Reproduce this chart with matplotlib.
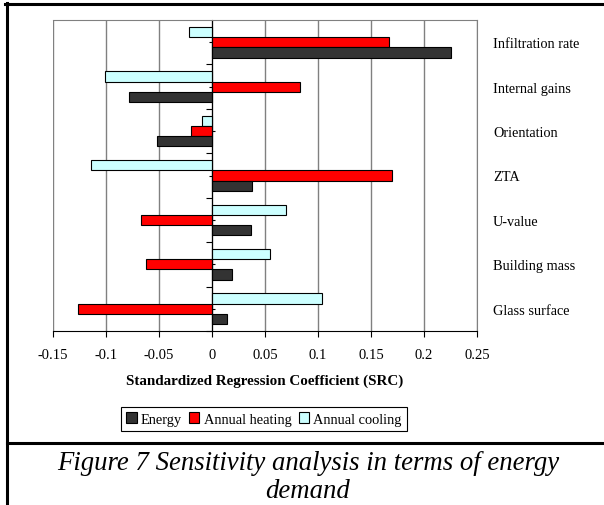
import matplotlib
matplotlib.use('Agg')
from matplotlib import pyplot as plt
from matplotlib.lines import Line2D
import numpy as np

# Данные
categories = ['Infiltration rate', 'Internal gains', 'Orientation', 'ZTA',
              'U-value', 'Building mass', 'Glass surface']
energy = [0.225, -0.078, -0.052, 0.038, 0.037, 0.019, 0.014]
heating = [0.167, 0.083, -0.020, 0.170, -0.067, -0.062, -0.126]
cooling = [-0.022, -0.101, -0.009, -0.114, 0.070, 0.055, 0.104]
xticks = [-0.15, -0.1, -0.05, 0, 0.05, 0.1, 0.15, 0.2, 0.25]
xtick_labels = ['-0.15', '-0.1', '-0.05', '0', '0.05', '0.1', '0.15', '0.2', '0.25']

plt.rcParams['font.family'] = ['Liberation Serif', 'DejaVu Serif']

W, H = 604, 506
fig = plt.figure(figsize=(W / 100, H / 100), dpi=100)
ax = fig.add_axes([53 / W, 1 - 332 / H, 424 / W, 311 / H])

y = np.arange(len(categories))
bh = 0.23
ax.barh(y - bh, cooling, height=bh, color='#CCFFFF', edgecolor='black', linewidth=0.8, label='Annual cooling')
ax.barh(y, heating, height=bh, color='#FF0000', edgecolor='black', linewidth=0.8, label='Annual heating')
ax.barh(y + bh, energy, height=bh, color='#333333', edgecolor='black', linewidth=0.8, label='Energy')

ax.set_xlim(-0.15, 0.25)
ax.set_ylim(len(categories) - 0.5, -0.5)
ax.set_xticks(xticks)
ax.set_xticklabels(xtick_labels, fontsize=10.5)
ax.xaxis.grid(True, color='#808080', linewidth=1)
ax.set_axisbelow(True)

# ось категорий проходит через ноль
ax.spines['left'].set_position(('data', 0))
ax.spines['left'].set_color('black')
ax.spines['bottom'].set_color('black')
ax.spines['top'].set_color('#808080')
ax.spines['right'].set_color('#808080')
ax.set_yticks(y)
ax.set_yticklabels(categories, fontsize=10.3)
ax.set_yticks(y + 0.5, minor=True)
ax.tick_params(axis='y', which='major', left=True, right=False, labelleft=False,
               labelright=True, direction='inout', length=5, pad=9, width=0.8)
ax.tick_params(axis='y', which='minor', left=True, right=False, direction='out', length=4, width=0.8)
ax.tick_params(axis='x', direction='out', length=4, width=0.8, pad=8)

ax.set_xlabel('Standardized Regression Coefficient (SRC)', fontsize=10.8, fontweight='bold', labelpad=9)

handles, labels = ax.get_legend_handles_labels()
order = [2, 1, 0]
leg = fig.legend([handles[i] for i in order], [labels[i] for i in order],
                 loc='center', bbox_to_anchor=(264 / W, 1 - 420 / H), ncol=3,
                 fontsize=10.4, handlelength=0.7, handleheight=0.7, handletextpad=0.3,
                 columnspacing=0.5, borderpad=0.35, fancybox=False, framealpha=1,
                 edgecolor='black')
leg.get_frame().set_linewidth(0.8)

# рамка и подпись
fig.add_artist(Line2D([5 / W, 1], [1 - 5 / H, 1 - 5 / H], color='black', linewidth=2.2))
fig.add_artist(Line2D([7 / W, 7 / W], [0, 1 - 4 / H], color='black', linewidth=2.2))
fig.add_artist(Line2D([7 / W, 1], [1 - 444 / H, 1 - 444 / H], color='black', linewidth=2.2))
fig.text(308 / W, 1 - 463 / H, 'Figure 7 Sensitivity analysis in terms of energy',
         fontsize=19.3, fontstyle='italic', ha='center', va='center')
fig.text(308 / W, 1 - 492 / H, 'demand', fontsize=19.3, fontstyle='italic', ha='center', va='center')

fig.savefig('out.png', dpi=100)
